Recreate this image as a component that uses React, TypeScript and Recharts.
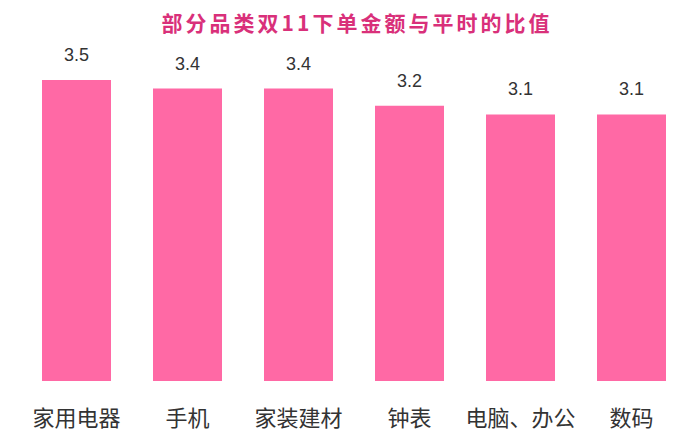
import { BarChart, Bar, XAxis, YAxis, LabelList } from "recharts"

const categories = ["家用电器", "手机", "家装建材", "钟表", "电脑、办公", "数码"]
const ratios = [3.5, 3.4, 3.4, 3.2, 3.1, 3.1]

const title = "部分品类双11下单金额与平时的比值"

const data = categories.map((name, i) => ({ name, ratio: ratios[i] }))

export default function App() {
	return (
		<div style={{ position: "absolute", left: 0, top: 0, width: 700, height: 442, background: "#fff" }}>
			<div
				style={{
					position: "absolute",
					top: 7,
					left: 0,
					width: 714,
					textAlign: "center",
					fontFamily: "'Noto Sans CJK SC', serif",
					fontWeight: 700,
					fontSize: 21,
					letterSpacing: 3,
					color: "#D9307A",
				}}
			>
				{title}
			</div>
			<BarChart
				width={700}
				height={442}
				data={data}
				margin={{ top: 80, right: 13, bottom: 0, left: 21 }}
				barCategoryGap={21}
			>
				<XAxis
					dataKey="name"
					height={61}
					axisLine={false}
					tickLine={false}
					tickMargin={23}
					interval={0}
					tick={{ fill: "#333", fontSize: 22, fontFamily: "'Noto Sans CJK SC', sans-serif" }}
				/>
				<YAxis hide domain={[0, 3.5]} />
				<Bar dataKey="ratio" fill="#FF69A5" barSize={69} isAnimationActive={false}>
					<LabelList
						dataKey="ratio"
						position="top"
						offset={19}
						fill="#333"
						fontSize={18}
						fontFamily="'Liberation Sans', Arial, sans-serif"
					/>
				</Bar>
			</BarChart>
		</div>
	)
}
